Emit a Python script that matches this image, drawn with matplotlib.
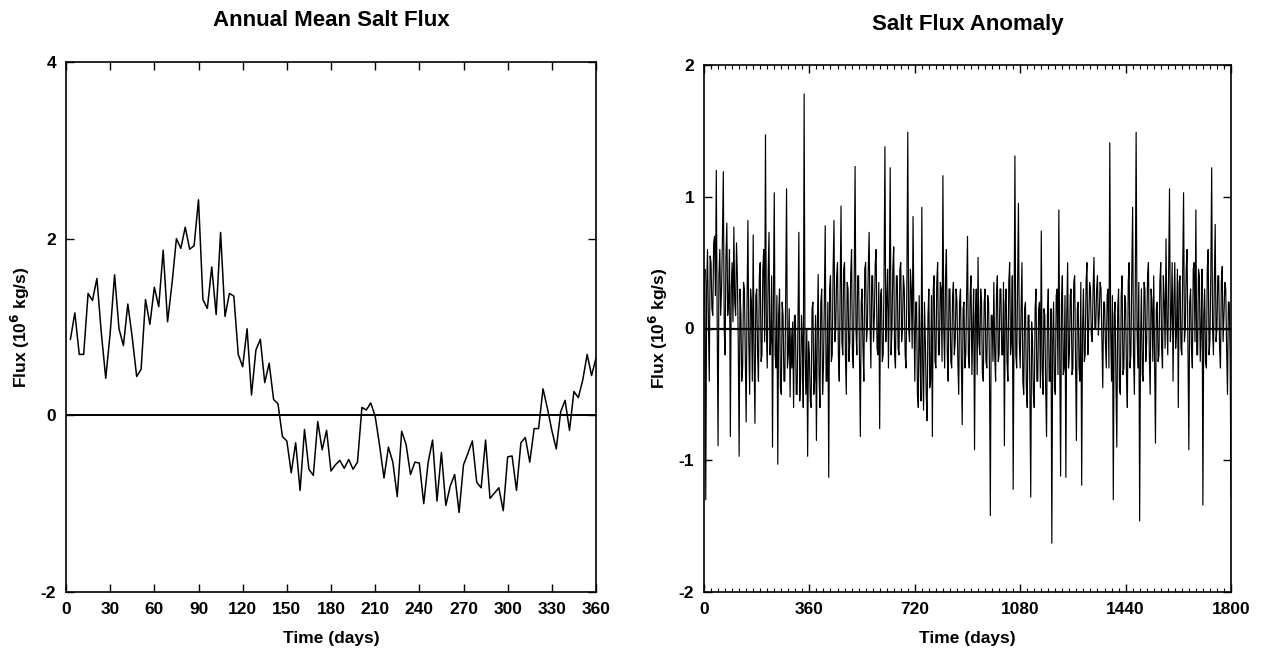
import numpy as np
import matplotlib.pyplot as plt
from matplotlib.ticker import MultipleLocator

plt.rcParams['font.family'] = ['Liberation Sans', 'DejaVu Sans']
plt.rcParams['font.weight'] = 'bold'
plt.rcParams['axes.unicode_minus'] = False

# annual mean salt flux (10^6 kg/s), roughly every 3 days
mean_flux = [
    0.86, 1.16, 0.69, 0.69, 1.38, 1.30, 1.55, 0.93, 0.42, 0.93,
    1.59, 0.98, 0.79, 1.26, 0.88, 0.44, 0.52, 1.31, 1.03, 1.45,
    1.23, 1.87, 1.06, 1.49, 2.00, 1.89, 2.13, 1.88, 1.92, 2.44,
    1.31, 1.21, 1.68, 1.14, 2.07, 1.12, 1.38, 1.35, 0.69, 0.55,
    0.98, 0.23, 0.74, 0.86, 0.37, 0.59, 0.18, 0.13, -0.24, -0.29,
    -0.65, -0.31, -0.85, -0.16, -0.61, -0.68, -0.07, -0.39, -0.17, -0.63,
    -0.56, -0.51, -0.60, -0.50, -0.61, -0.53, 0.09, 0.06, 0.14, -0.01,
    -0.34, -0.71, -0.36, -0.53, -0.92, -0.18, -0.33, -0.67, -0.53, -0.54,
    -1.00, -0.53, -0.28, -0.97, -0.42, -1.02, -0.80, -0.67, -1.10, -0.56,
    -0.43, -0.29, -0.76, -0.82, -0.28, -0.94, -0.88, -0.82, -1.08, -0.47,
    -0.46, -0.85, -0.31, -0.25, -0.53, -0.15, -0.15, 0.30, 0.08, -0.17,
    -0.38, 0.04, 0.17, -0.17, 0.27, 0.20, 0.40, 0.69, 0.45, 0.65,
]

# salt flux anomaly (10^6 kg/s), every 3 days over 5 years
anomaly = [
    # 0-57
    0.20, 0.45, -1.30, 0.30, 0.60, 0.05, -0.40, 0.55, 0.50, 0.15,
    0.10, 0.65, 0.70, 0.25, 1.20, 0.05, -0.89, 0.40, 0.60, 0.10,
    # 60-117
    0.30, 0.70, 1.19, 0.00, -0.20, 0.55, 0.80, 0.10, 0.20, 0.60,
    -0.82, 0.30, 0.50, 0.05, 0.77, 0.20, 0.10, 0.65, 0.40, -0.10,
    # 120-177
    -0.97, 0.30, 0.10, -0.40, -0.30, 0.35, 0.30, -0.20, -0.71, 0.20,
    0.82, -0.10, -0.50, 0.30, 0.20, -0.40, 0.71, -0.20, -0.72, 0.25,
    # 180-237
    0.30, -0.20, -0.40, 0.40, 0.50, -0.25, -0.20, 0.45, 0.60, -0.10,
    1.47, 0.00, -0.30, 0.40, 0.73, -0.20, -0.10, 0.40, -0.90, 0.20,
    # 240-297
    1.03, -0.20, -0.30, 0.25, -1.03, 0.10, 0.30, -0.45, -0.50, 0.20,
    0.10, -0.40, -0.40, 0.25, 1.06, -0.30, -0.20, 0.15, -0.52, 0.00,
    # 300-357
    -0.30, 0.05, -0.60, 0.10, 0.10, -0.50, -0.50, 0.05, 0.73, -0.55,
    -0.40, 0.10, -0.10, -0.60, 1.78, -0.20, -0.50, 0.00, -0.97, -0.10,
    # 360-417
    -0.20, -0.55, -0.60, 0.15, 0.20, -0.50, -0.40, 0.10, -0.85, 0.00,
    0.41, -0.35, -0.60, 0.20, 0.30, -0.50, -0.30, 0.20, 0.78, -0.40,
    # 420-477
    -0.40, 0.20, -1.13, 0.30, 0.40, -0.25, -0.20, 0.45, 0.82, -0.10,
    0.00, 0.40, 0.50, -0.20, -0.40, 0.30, 0.93, -0.10, -0.20, 0.45,
    # 480-537
    0.50, -0.20, -0.50, 0.35, 0.30, -0.25, -0.10, 0.40, 0.60, -0.20,
    -0.30, 0.35, 1.23, 0.00, -0.20, 0.40, 0.40, -0.25, -0.82, 0.20,
    # 540-597
    0.30, -0.15, -0.40, 0.45, 0.50, -0.10, 0.00, 0.45, 0.73, 0.05,
    -0.30, 0.40, 0.40, -0.10, 0.10, 0.50, 0.60, -0.15, -0.20, 0.35,
    # 600-657
    -0.76, 0.25, 0.30, -0.25, -0.20, 0.40, 1.38, -0.10, 0.20, 0.45,
    -0.30, 0.30, 1.22, -0.20, 0.00, 0.45, 0.62, -0.20, -0.30, 0.40,
    # 660-717
    0.40, -0.15, -0.20, 0.45, 0.50, -0.10, 0.00, 0.40, 0.30, -0.20,
    -0.30, 0.35, 1.49, 0.00, -0.10, 0.45, 0.30, -0.15, 0.85, 0.10,
    # 720-777
    -0.40, 0.20, 0.20, -0.50, -0.60, 0.25, -0.20, -0.55, 0.92, -0.30,
    -0.62, 0.20, -0.10, -0.50, -0.70, 0.10, 0.30, -0.45, -0.40, 0.25,
    # 780-837
    -0.82, 0.30, 0.40, -0.25, -0.30, 0.35, 0.50, -0.20, -0.20, 0.35,
    0.30, -0.25, 1.16, 0.00, -0.30, 0.40, 0.60, -0.20, -0.40, 0.30,
    # 840-897
    0.30, -0.25, -0.30, 0.25, 0.35, -0.20, -0.10, 0.30, 0.20, -0.25,
    -0.50, 0.20, 0.30, -0.25, -0.73, 0.15, 0.20, -0.30, -0.20, 0.25,
    # 900-957
    0.70, -0.20, -0.30, 0.25, 0.40, -0.35, 0.00, 0.30, -0.92, 0.10,
    0.30, -0.35, 0.54, -0.10, -0.20, 0.30, 0.20, -0.35, -0.40, 0.20,
    # 960-1017
    0.30, -0.25, -0.30, 0.25, 0.20, -0.30, -1.42, 0.10, 0.10, -0.25,
    0.35, -0.20, -0.40, 0.25, 0.40, -0.25, -0.20, 0.30, 0.30, -0.20,
    # 1020-1077
    -0.20, 0.35, -0.89, 0.20, 0.30, -0.25, -0.40, 0.35, 0.50, -0.20,
    -0.10, 0.40, -1.22, 0.10, 1.31, -0.20, -0.30, 0.35, 0.95, -0.10,
    # 1080-1137
    -0.30, 0.15, 0.50, -0.40, -0.50, 0.15, 0.20, -0.45, -0.60, 0.10,
    0.10, -0.45, -1.28, 0.05, -0.10, -0.50, -0.60, 0.15, 0.30, -0.40,
    # 1140-1197
    -0.40, 0.15, 0.20, -0.45, 0.74, -0.30, -0.50, 0.15, 0.10, -0.45,
    -0.82, 0.10, 0.30, -0.40, -0.40, 0.15, -1.63, -0.10, 0.20, -0.45,
    # 1200-1257
    -0.50, 0.25, 0.30, -0.35, 0.90, -0.20, -1.12, 0.20, 0.40, -0.35,
    -0.30, 0.25, -1.13, 0.10, 0.50, -0.30, -0.20, 0.25, 0.30, -0.35,
    # 1260-1317
    -0.30, 0.35, 0.40, -0.25, -0.85, 0.15, 0.20, -0.30, -0.40, 0.35,
    -1.19, 0.00, 0.30, -0.25, -0.20, 0.35, 0.50, -0.20, 0.00, 0.35,
    # 1320-1377
    0.30, -0.05, -0.10, 0.30, 0.54, 0.00, 0.00, 0.30, 0.40, -0.05,
    0.10, 0.35, 0.30, -0.10, -0.45, 0.20, 0.20, -0.10, -0.30, 0.25,
    # 1380-1437
    0.30, -0.30, 1.41, 0.00, -0.40, 0.25, -1.30, 0.10, 0.20, -0.40,
    -0.90, 0.15, 0.30, -0.45, -0.50, 0.25, 0.40, -0.35, -0.30, 0.25,
    # 1440-1497
    0.20, -0.35, -0.60, 0.35, 0.50, -0.30, -0.20, 0.40, 0.92, -0.20,
    -0.50, 0.30, 1.49, 0.00, -0.30, 0.35, -1.46, -0.10, 0.30, -0.35,
    # 1500-1557
    -0.40, 0.35, 0.30, -0.25, -0.10, 0.40, 0.50, -0.20, -0.50, 0.30,
    0.20, -0.25, 0.40, -0.20, -0.87, 0.15, 0.20, -0.25, -0.20, 0.35,
    # 1560-1617
    0.50, -0.15, -0.30, 0.40, 0.20, -0.15, 0.68, 0.05, -0.20, 0.45,
    1.06, -0.10, 0.10, 0.50, -0.40, 0.20, 0.50, -0.15, 0.00, 0.45,
    # 1620-1677
    -0.60, 0.35, 0.40, -0.15, -0.20, 0.45, 1.03, -0.10, 0.00, 0.45,
    0.60, -0.15, -0.92, 0.20, 0.30, -0.15, -0.30, 0.45, 0.50, -0.10,
    # 1680-1737
    0.90, -0.20, -0.20, 0.45, 0.40, -0.25, 0.00, 0.45, -1.34, 0.10,
    0.30, -0.25, -0.30, 0.45, 0.60, -0.20, -0.10, 0.40, 1.22, 0.00,
    # 1740-1800
    -0.20, 0.35, 0.79, -0.10, 0.00, 0.40, 0.40, -0.15, -0.30, 0.35,
    0.47, -0.10, 0.10, 0.35, 0.30, -0.15, -0.50, 0.20, 0.20, -0.20,
    -1.28,
]

mean_days = np.linspace(3, 360, len(mean_flux))
anom_days = np.linspace(0, 1800, len(anomaly))

fig = plt.figure(figsize=(12.62, 6.52), dpi=100)
ax1 = fig.add_axes([66 / 1262, 60 / 652, 530 / 1262, 530 / 652])
ax2 = fig.add_axes([704 / 1262, 60 / 652, 527 / 1262, 527 / 652])

# left: annual mean
ax1.plot(mean_days, mean_flux, color='black', lw=1.1)
ax1.axhline(0, color='black', lw=1.4)
ax1.set_xlim(0, 360)
ax1.set_ylim(-2, 4)
ax1.set_xticks(np.arange(0, 361, 30))
ax1.set_yticks([-2, 0, 2, 4])
ax1.set_title('Annual Mean Salt Flux', fontsize=16, fontweight='bold', pad=26)

# right: anomaly
ax2.plot(anom_days, anomaly, color='black', lw=0.85)
ax2.axhline(0, color='black', lw=1.6)
ax2.set_xlim(0, 1800)
ax2.set_ylim(-2, 2)
ax2.set_xticks(np.arange(0, 1801, 360))
ax2.xaxis.set_minor_locator(MultipleLocator(24))
ax2.set_yticks([-2, -1, 0, 1, 2])
ax2.set_title('Salt Flux Anomaly', fontsize=16, fontweight='bold', pad=25)

for ax in (ax1, ax2):
    ax.set_xlabel('Time (days)', fontsize=12.5, fontweight='bold', labelpad=10)
    ax.set_ylabel('Flux (10$^6$ kg/s)', fontsize=12.5, fontweight='bold', labelpad=6)
    ax.tick_params(which='major', direction='in', top=True, right=True,
                   length=6, width=1, labelsize=12.5, pad=7)
    ax.tick_params(which='minor', direction='in', top=True, right=True,
                   length=3, width=0.8)
    for s in ax.spines.values():
        s.set_linewidth(1.2)

fig.savefig('out.png', dpi=100)
